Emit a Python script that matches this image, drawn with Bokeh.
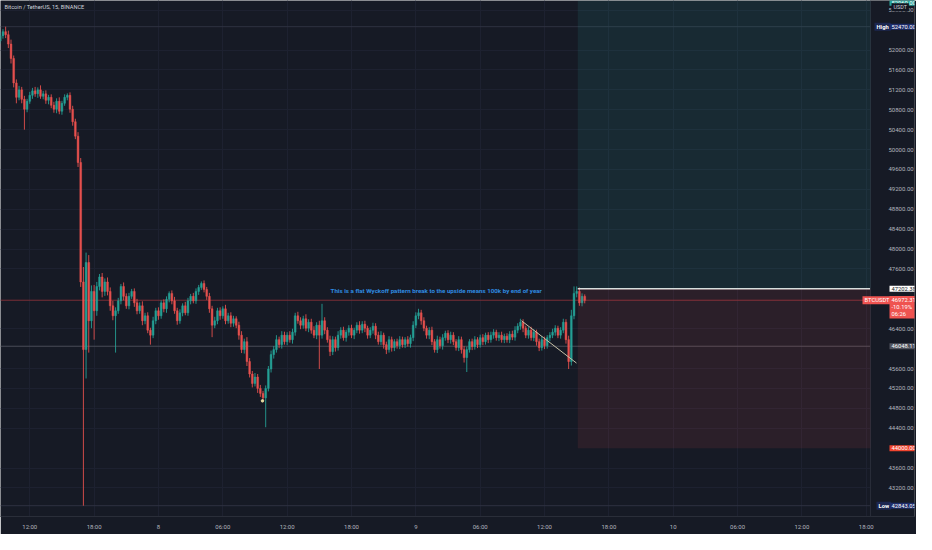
from bokeh.plotting import figure
from bokeh.models import Label, Range1d, FixedTicker, NumeralTickFormatter, Span, BoxAnnotation, ColumnDataSource
from bokeh.embed import file_html
from bokeh.resources import INLINE
from bokeh.core.properties import value

title_text = "Bitcoin / TetherUS, 15, BINANCE"
note_text = "This is a flat Wyckoff pattern break to the upside means 100k by end of year"

# 15-minute candles, time in hours relative to day 8 00:00
start_hour = -14.75
step_hour = 0.25
first_open = 52180

closes = [
    52290, 52370, 52310, 52120, 51830, 51340, 51050, 51200, 51010, 50810,
    50970, 51090, 51180, 51120, 51200, 51070, 51120, 50990, 51050, 50890,
    50810, 50970, 50770, 50930, 51050, 51090, 50810, 50560, 50270, 49740,
    47340, 45980, 47730, 46560, 47150, 46760, 47250, 47440, 47150, 47340,
    47150, 46860, 46660, 46760, 46960, 47250, 47050, 46860, 47050, 47150,
    46920, 46760, 46860, 46560, 46660, 46370, 46270, 46560, 46760, 46660,
    46920, 46800, 46990, 47110, 46960, 46760, 46560, 46720, 46860, 46720,
    46960, 47050, 46960, 47150, 47230, 47310, 47190, 47050, 46800, 46470,
    46560, 46760, 46660, 46800, 46560, 46660, 46510, 46600, 46470, 46270,
    45980, 46140, 45740, 45490, 45300, 45430, 45200, 45100, 45010, 45200,
    45590, 45880, 45980, 46180, 46080, 46270, 46140, 46270, 46180, 46330,
    46660, 46560, 46470, 46600, 46410, 46530, 46370, 46270, 46470, 46270,
    46560, 46370, 46180, 45940, 46180, 46020, 46270, 46370, 46220, 46330,
    46410, 46270, 46370, 46470, 46370, 46490, 46410, 46270, 46370, 46450,
    46270, 46140, 46270, 46080, 45980, 46180, 46020, 46140, 46060, 46180,
    46080, 46180, 46100, 46220, 46470, 46660, 46720, 46560, 46410, 46270,
    46370, 46140, 45980, 46180, 46060, 46220, 46310, 46180, 46270, 46140,
    46020, 46180, 45980, 45820, 45980, 46140, 46040, 46180, 46080, 46220,
    46140, 46270, 46180, 46270, 46330, 46220, 46270, 46180, 46250, 46180,
    46290, 46230, 46370, 46450, 46530, 46410, 46270, 46370, 46220, 46330,
    46140, 46020, 46180, 46060, 46220, 46270, 46330, 46410, 46270, 46370,
    46530, 46180, 45740, 46660, 47110, 47150, 46920, 47050, 46970,
]

wick_up = [
    60, 50, 100, 80, 90, 60, 70, 80, 60, 70,
    50, 70, 60, 80, 50, 90, 60, 70, 50, 60,
    70, 60, 80, 50, 60, 40, 60, 70, 60, 80,
    90, 300, 200, 150, 120, 130, 90, 60, 80, 70,
    90, 80, 100, 70, 60, 50, 80, 60, 70, 50,
    60, 80, 70, 90, 60, 70, 50, 80, 60, 70,
    50, 70, 60, 40, 60, 80, 60, 70, 50, 80,
    60, 50, 70, 60, 50, 40, 60, 50, 70, 60,
    80, 60, 70, 50, 80, 60, 70, 60, 50, 70,
    80, 60, 90, 70, 60, 80, 60, 70, 50, 60,
    60, 80, 70, 90, 60, 80, 70, 60, 80, 70,
    60, 80, 70, 60, 90, 60, 70, 80, 60, 90,
    340, 70, 60, 80, 70, 60, 80, 60, 70, 50,
    60, 70, 50, 60, 80, 60, 70, 50, 60, 70,
    60, 70, 80, 50, 60, 70, 60, 50, 60, 70,
    60, 50, 70, 60, 80, 70, 80, 60, 70, 50,
    60, 70, 50, 80, 60, 70, 50, 60, 70, 60,
    50, 70, 60, 70, 60, 50, 60, 70, 50, 60,
    70, 50, 60, 70, 60, 50, 60, 70, 50, 60,
    60, 70, 80, 60, 70, 60, 50, 60, 70, 60,
    50, 60, 70, 60, 50, 60, 70, 60, 50, 60,
    70, 60, 80, 120, 140, 100, 80, 60, 40,
]

wick_dn = [
    50, 60, 70, 80, 100, 90, 120, 60, 80, 410,
    60, 50, 70, 60, 80, 50, 60, 70, 80, 60,
    70, 80, 60, 70, 50, 60, 70, 80, 60, 90,
    100, 3137, 580, 640, 150, 580, 100, 80, 120, 90,
    80, 100, 90, 740, 60, 70, 80, 60, 70, 50,
    80, 70, 60, 90, 70, 60, 190, 60, 70, 80,
    60, 70, 80, 60, 70, 60, 80, 60, 70, 50,
    60, 70, 50, 60, 70, 50, 60, 70, 80, 240,
    60, 70, 80, 60, 70, 60, 80, 70, 60, 90,
    70, 80, 90, 70, 80, 60, 90, 70, 60, 590,
    60, 70, 80, 60, 70, 80, 60, 70, 60, 80,
    70, 60, 80, 70, 60, 80, 70, 60, 80, 680,
    70, 80, 60, 90, 70, 80, 60, 70, 60, 80,
    70, 60, 80, 60, 70, 60, 80, 70, 60, 70,
    80, 60, 70, 80, 90, 60, 80, 70, 60, 70,
    60, 70, 60, 80, 70, 60, 70, 80, 60, 70,
    80, 70, 60, 70, 60, 80, 60, 70, 80, 70,
    60, 70, 80, 100, 290, 60, 70, 60, 70, 60,
    70, 60, 70, 60, 70, 60, 70, 60, 70, 60,
    70, 60, 70, 60, 70, 80, 60, 70, 60, 70,
    80, 70, 60, 70, 60, 70, 60, 70, 60, 70,
    60, 80, 150, 80, 70, 80, 60, 70, 60,
]

time_ticks = [-12, -6, 0, 6, 12, 18, 24, 30, 36, 42, 48, 54, 60, 66]
time_labels = ["12:00", "18:00", "8", "06:00", "12:00", "18:00", "9",
               "06:00", "12:00", "18:00", "10", "06:00", "12:00", "18:00"]
price_ticks = [52800, 52000, 51600, 51200, 50800, 50400, 50000, 49600, 49200,
               48800, 48400, 48000, 47600, 46400, 45600, 45200, 44800, 44400,
               43600, 43200]

entry_price = 47202.38
stop_price = 44000.00
last_price = 46972.31
level_price = 46048.11
high_price = 52470.00
low_price = 42843.05
position_start = 39.1
trend_t = [33.85, 38.98]
trend_p = [46560, 45710]
note_t = 25.9
note_p = 47165
marker_t = [9.7]
marker_p = [44950]

UP = "#26a69a"
DOWN = "#ef5350"
BG = "#161a25"
FONT = "Roboto"
X0 = -14.73      # left edge of the chart
SCALE_X = 66.4   # where the price scale begins
X1 = 70.5        # right edge of the canvas

n = min(len(closes), len(wick_up), len(wick_dn))
opens = [first_open] + closes[:n - 1]
xs = [start_hour + step_hour * i for i in range(n)]
tops = [max(o, c) for o, c in zip(opens, closes[:n])]
bots = [min(o, c) for o, c in zip(opens, closes[:n])]
highs = [t + w for t, w in zip(tops, wick_up[:n])]
lows = [b - w for b, w in zip(bots, wick_dn[:n])]
cols = [UP if c >= o else DOWN for o, c in zip(opens, closes[:n])]
src = ColumnDataSource(dict(x=xs, top=tops, bottom=bots, high=highs, low=lows, color=cols))

p = figure(width=916, height=534, output_backend="svg", toolbar_location=None,
           x_range=Range1d(X0, X1), y_range=Range1d(42626, 52996),
           y_axis_location="right", min_border_left=0, min_border_top=0,
           min_border_right=0, min_border_bottom=18)
p.background_fill_color = BG
p.border_fill_color = BG
p.outline_line_color = None

# grids
p.xgrid.ticker = FixedTicker(ticks=time_ticks)
p.ygrid.ticker = FixedTicker(ticks=price_ticks)
p.grid.grid_line_color = "#1d2130"

# price-scale background (covers the grid inside the scale)
p.add_layout(BoxAnnotation(left=SCALE_X, fill_color=BG, fill_alpha=1.0,
                           line_alpha=0, level="underlay"))

# axes
xa = p.xaxis[0]
xa.ticker = FixedTicker(ticks=time_ticks)
xa.major_label_overrides = {t: l for t, l in zip(time_ticks, time_labels)}
ya = p.yaxis[0]
ya.ticker = FixedTicker(ticks=price_ticks)
ya.formatter = NumeralTickFormatter(format="0.00")
for ax in (xa, ya):
    ax.major_tick_line_color = None
    ax.minor_tick_line_color = None
    ax.major_tick_out = 0
    ax.major_tick_in = 0
    ax.minor_tick_out = 0
    ax.minor_tick_in = 0
    ax.major_label_text_color = "#b2b5be"
    ax.major_label_text_font = FONT
    ax.major_label_text_font_size = "6px"
xa.axis_line_color = "#2a2e39"
ya.axis_line_color = None
xa.major_label_standoff = 6
ya.major_label_standoff = -26

# separator between chart and price scale
p.add_layout(Span(location=SCALE_X, dimension="height", line_color="#2a2e39", line_width=1))

# position boxes
p.add_layout(BoxAnnotation(left=position_start, right=SCALE_X, bottom=entry_price,
                           fill_color=UP, fill_alpha=0.12, line_alpha=0))
p.add_layout(BoxAnnotation(left=position_start, right=SCALE_X, bottom=stop_price,
                           top=entry_price, fill_color=DOWN, fill_alpha=0.10, line_alpha=0))

# reference lines (stop at the price scale)
p.segment(x0=[X0] * 4, x1=[SCALE_X] * 4,
          y0=[high_price, low_price, level_price, last_price],
          y1=[high_price, low_price, level_price, last_price],
          line_color=["#2e3240", "#2e3240", "#4a4d58", "#7a2e36"], line_width=1)

# candles
p.segment(x0="x", y0="high", x1="x", y1="low", color="color", line_width=1,
          line_alpha=0.85, source=src)
p.vbar(x="x", top="top", bottom="bottom", width=0.17, fill_color="color",
       line_color="color", line_width=0.5, fill_alpha=0.85, line_alpha=0.85, source=src)

# entry line, trend line, marker
p.segment(x0=[position_start], y0=[entry_price], x1=[SCALE_X], y1=[entry_price],
          line_color="#e8e8e8", line_width=1.5)
p.line(trend_t, trend_p, line_color="#c8c2a8", line_width=1)
p.scatter(marker_t, marker_p, size=2.5, color="#e8dca0")

p.text(x=[note_t], y=[note_p], text=[note_text], text_align="center",
       text_baseline="middle", text_color="#2f8be0", text_font=value(FONT),
       text_font_size="6.2px", text_font_style="bold")

p.add_layout(Label(x=4, x_units="screen", y=52860, text=title_text, text_color="#d1d4dc",
                   text_font=FONT, text_font_size="5.6px", text_baseline="middle"))


def tag(text, x, y, bg, fg="#ffffff", bold=False, size="5.8px"):
    p.add_layout(Label(x=x, x_units="screen", y=y, text=text, text_color=fg,
                       text_font=FONT, text_font_size=size,
                       text_font_style="bold" if bold else "normal",
                       text_baseline="middle", text_align="left",
                       background_fill_color=bg, background_fill_alpha=1.0,
                       padding=(2, 1)))


tag("52960.00", 889, 52950, UP)
tag("USDT", 891, 52860, "#131722", "#d1d4dc", size="5.4px")
tag("High", 874, high_price, "#1c2750", bold=True)
tag("52470.00", 889, high_price, "#1e2d6a")
tag("47202.38", 889, entry_price, "#ffffff", "#131722")
tag("BTCUSDT", 862, last_price, DOWN)
tag("46972.31\n-10.19%\n06:26", 889, last_price - 140, DOWN)
tag("46048.11", 889, level_price, "#50535e")
tag("44000.00", 889, stop_price, "#f0442e")
tag("Low", 876, low_price, "#1c2750", bold=True)
tag("42843.05", 889, low_price, "#1e2d6a")

open("out.html", "w").write(file_html(p, INLINE))
